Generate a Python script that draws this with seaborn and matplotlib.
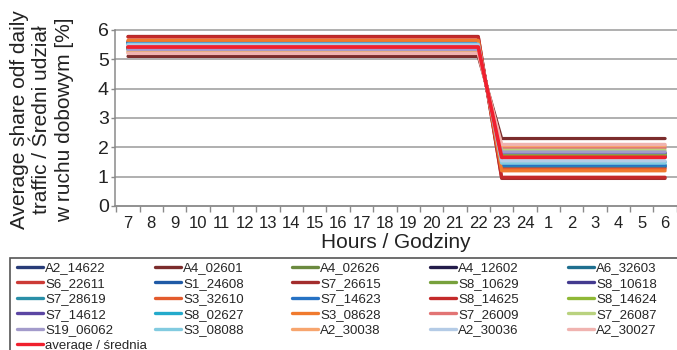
import numpy as np
import pandas as pd
import matplotlib
matplotlib.use("Agg")
import matplotlib.pyplot as plt
from matplotlib.lines import Line2D
from matplotlib.patches import Rectangle
import seaborn as sns

# Hour-of-day categories, 7:00 through 6:00 next morning
hours = ["7", "8", "9", "10", "11", "12", "13", "14", "15", "16", "17", "18",
         "19", "20", "21", "22", "23", "24", "1", "2", "3", "4", "5", "6"]
day_hours = ["7", "8", "9", "10", "11", "12", "13", "14", "15", "16", "17",
             "18", "19", "20", "21", "22"]

# Measuring stations (legend order, row by row) and the average
stations = ["A2_14622", "A4_02601", "A4_02626", "A4_12602", "A6_32603",
            "S6_22611", "S1_24608", "S7_26615", "S8_10629", "S8_10618",
            "S7_28619", "S3_32610", "S7_14623", "S8_14625", "S8_14624",
            "S7_14612", "S8_02627", "S3_08628", "S7_26009", "S7_26087",
            "S19_06062", "S3_08088", "A2_30038", "A2_30036", "A2_30027",
            "average / średnia"]

# Hourly share of daily traffic [%] during the day (7-22) and at night (23-6)
day_share = [5.42, 5.10, 5.38, 5.40, 5.57,
             5.60, 5.58, 5.78, 5.38, 5.36,
             5.56, 5.62, 5.55, 5.76, 5.37,
             5.34, 5.50, 5.65, 5.26, 5.30,
             5.33, 5.52, 5.22, 5.48, 5.20,
             5.42]
night_share = [1.66, 2.30, 1.74, 1.70, 1.36,
               1.30, 1.34, 0.94, 1.75, 1.80,
               1.38, 1.26, 1.40, 0.98, 1.76,
               1.82, 1.50, 1.20, 1.98, 1.90,
               1.84, 1.46, 2.06, 1.54, 2.10,
               1.66]

colors = ["#283c78", "#7b2c2c", "#6b8a3f", "#231c4a", "#1f6f8f",
          "#cc3b36", "#1f5aa6", "#a32d2d", "#77a13c", "#433a8f",
          "#2a8fa8", "#e35b2d", "#2672c4", "#c42a2a", "#8fb836",
          "#5b46a3", "#24aacb", "#f07a2e", "#e27474", "#b9d27f",
          "#a39bcb", "#82cbe0", "#f7a56e", "#b4cbe6", "#f0b3b0",
          "#f0202e"]

rows = []
for name, d, n in zip(stations, day_share, night_share):
    for i, h in enumerate(hours):
        rows.append({"pos": i, "share": d if h in day_hours else n,
                     "station": name})
df = pd.DataFrame(rows)

sns.set_theme(style="white")
plt.rcParams["font.family"] = ["Liberation Sans", "DejaVu Sans"]

W, H = 677, 350
fig = plt.figure(figsize=(W / 100, H / 100), dpi=100)
ax = fig.add_axes([115 / W, 1 - 206 / H, 562 / W, 176 / H])

palette = dict(zip(stations, colors))
sns.lineplot(data=df, x="pos", y="share", hue="station", hue_order=stations,
             palette=palette, estimator=None, sort=False, legend=False,
             linewidth=2.3, ax=ax)
avg_line = ax.get_lines()[-1]
avg_line.set_linewidth(2.7)
avg_line.set_zorder(5)

ax.set_xlim(-0.557, 23.51)
ax.set_ylim(0, 6)
ax.set_yticks(range(0, 7))
ax.set_xticks(range(len(hours)))
ax.set_xticklabels(hours)
ax.set_xticks(np.arange(-0.5, 23.6, 1), minor=True)

ax.yaxis.grid(True, color="#9a9a9a", linewidth=1.1)
ax.xaxis.grid(False)
for gl in ax.get_ygridlines():
    gl.set_clip_on(False)
ax.set_axisbelow(True)

for side in ("top", "right"):
    ax.spines[side].set_visible(False)
for side in ("left", "bottom"):
    ax.spines[side].set_color("#8a8a8a")
    ax.spines[side].set_linewidth(1.1)

ax.tick_params(axis="y", which="major", left=True, length=3, width=1,
               color="#8a8a8a", pad=1.5, labelsize=14, labelcolor="#222222")
ax.tick_params(axis="x", which="major", bottom=True, length=0, pad=7,
               labelsize=12, labelcolor="#222222")
ax.tick_params(axis="x", which="minor", bottom=True, length=4, width=1,
               color="#8a8a8a")

ax.set_xlabel("Hours / Godziny", fontsize=15, color="#222222")
ax.xaxis.set_label_coords(0.5, -0.155)
ax.set_ylabel("Average share odf daily\ntraffic / Średni udział\nw ruchu dobowym [%]",
              fontsize=15, color="#222222", multialignment="center",
              linespacing=1.25, va="center")
ax.yaxis.set_label_coords(-0.13, 0.49)

# Legend: five columns filled row by row, inside one framed box
col_x = [17, 155, 292, 430, 568]
for c, x in enumerate(col_x):
    idx = list(range(c, len(stations), 5))
    handles = [Line2D([], [], color=colors[i], linewidth=2.4) for i in idx]
    labels = [stations[i] for i in idx]
    fig.legend(handles, labels, loc="upper left",
               bbox_to_anchor=(x / W, 1 - 262 / H), frameon=False,
               borderpad=0, borderaxespad=0, handlelength=1.95,
               handletextpad=0.2, labelspacing=0.25, fontsize=9.5)

fig.add_artist(Rectangle((10 / W, -0.02), 1.0, (H - 258) / H + 0.02,
                         transform=fig.transFigure, fill=False,
                         edgecolor="#555555", linewidth=1.2))

fig.savefig("out.png", dpi=100)
